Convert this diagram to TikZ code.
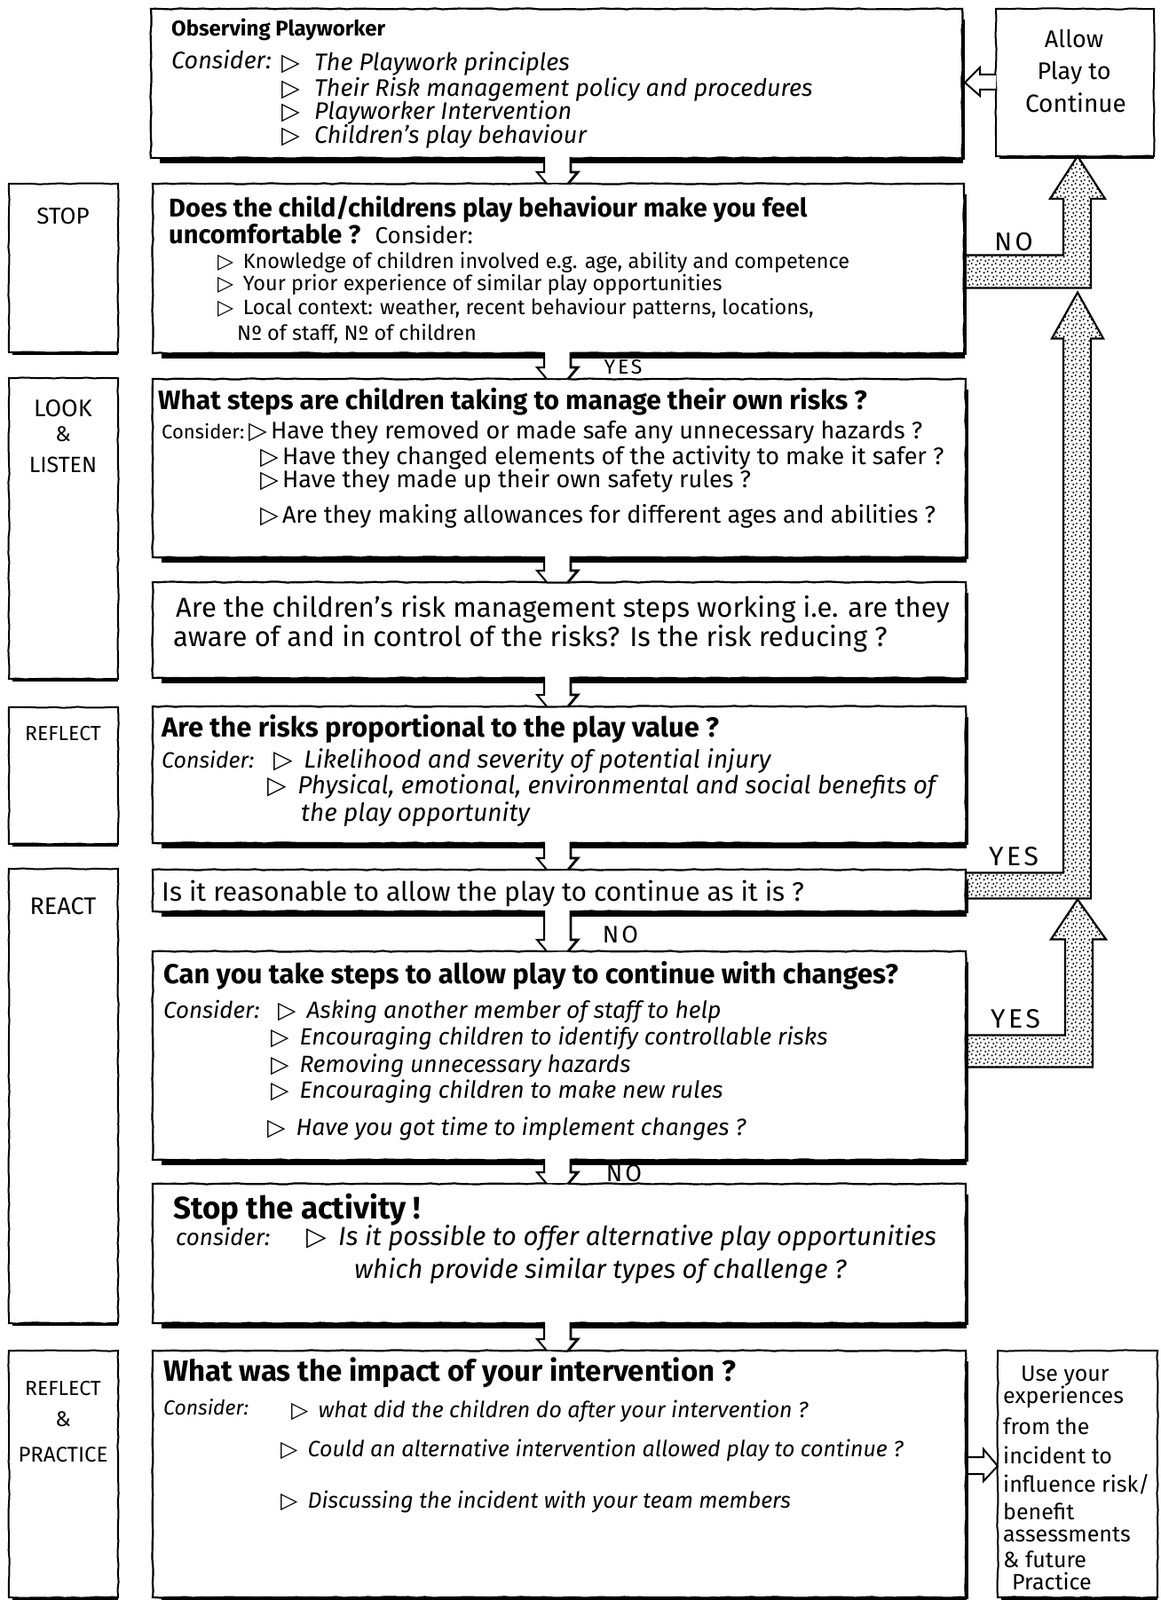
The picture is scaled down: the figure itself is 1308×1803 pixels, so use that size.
\documentclass[tikz,border=0pt]{standalone}
\usepackage{fontspec}
\setmainfont{Fira Sans}
\newfontfamily\symfont{DejaVu Sans}
\usetikzlibrary{decorations.pathmorphing,patterns.meta,calc}

\tikzdeclarepattern{
  name=sdots,
  type=uncolored,
  bottom left={(0pt,0pt)},
  top right={(9pt,9pt)},
  tile size={(9pt,9pt)},
  code={
    \pgfpathcircle{\pgfqpoint{1.8pt}{1.8pt}}{1.35pt}
    \pgfpathcircle{\pgfqpoint{6.3pt}{3.4pt}}{1.2pt}
    \pgfpathcircle{\pgfqpoint{3.6pt}{6.6pt}}{1.3pt}
    \pgfpathcircle{\pgfqpoint{7.8pt}{7.9pt}}{1.1pt}
    \pgfusepath{fill}
  }
}

\newcommand\tri[1][0.45em]{{\symfont\bfseries ▷}\hspace{#1}}

\newcommand\mainbox[5]{%
  \node[mainb, minimum width={#4pt-#2pt}, minimum height={#5pt-#3pt}] (#1) at ({(#2+#4)/2},{(#3+#5)/2}) {};
  \draw[line width=6pt] ([xshift=10pt,yshift=-3pt]#1.south west) -- ([xshift=1pt,yshift=-3pt]#1.south east);
  \draw[line width=3pt] ([xshift=1.5pt,yshift=-12pt]#1.north east) -- ([xshift=1.5pt,yshift=-2pt]#1.south east);
}
\newcommand\sidebox[5]{%
  \node[sideb, minimum width={#4pt-#2pt}, minimum height={#5pt-#3pt}] (#1) at ({(#2+#4)/2},{(#3+#5)/2}) {};
  \draw[line width=3.5pt] ([xshift=4pt,yshift=-1.5pt]#1.south west) -- ([yshift=-1.5pt]#1.south east);
}
\newcommand\dconn[3]{%
  \coordinate (#1-#2-s) at (#3,0 |- #1.south);
  \coordinate (#1-#2-e) at (#3,0 |- #2.north);
  \fill[white] ($(#1-#2-s)+(-14,-2)$) -- ($(#1-#2-e)+(-14,-13)$) -- ($(#1-#2-e)+(-22,-13)$) -- ($(#1-#2-e)+(-12,-1)$)
     -- ($(#1-#2-e)+(12,-1)$) -- ($(#1-#2-e)+(22,-13)$) -- ($(#1-#2-e)+(14,-13)$) -- ($(#1-#2-s)+(14,-2)$) -- cycle;
  \draw[conn] ($(#1-#2-s)+(-15,-1)$) -- ($(#1-#2-e)+(-15,-13)$) -- ($(#1-#2-e)+(-23,-13)$) -- ($(#1-#2-e)+(-12,0)$);
  \draw[conn, line width=2.8pt] ($(#1-#2-s)+(15,-1)$) -- ($(#1-#2-e)+(15,-13)$) -- ($(#1-#2-e)+(23,-13)$) -- ($(#1-#2-e)+(12,0)$);
}

\begin{document}
\begin{tikzpicture}[x=1pt,y=-1pt,
  sk/.style={decorate,decoration={random steps,segment length=9pt,amplitude=0.6pt}},
  mainb/.style={draw,line width=2.2pt,fill=white,inner sep=0pt,outer sep=0pt,sk},
  sideb/.style={draw,line width=2pt,fill=white,inner sep=0pt,outer sep=0pt,sk},
  conn/.style={line width=2pt,line join=miter},
  dotarr/.style={draw,line width=2.2pt,line join=miter,pattern=sdots,pattern color=black},
  holl/.style={draw,line width=2pt,line join=miter,fill=white},
  hd/.style={anchor=base west,inner sep=0pt,font={\fontsize{#1}{#1}\selectfont\bfseries}},
  tx/.style={anchor=base west,inner sep=0pt,font={\fontsize{#1}{#1}\selectfont}},
  ti/.style={anchor=base west,inner sep=0pt,font={\fontsize{#1}{#1}\selectfont\itshape}},
  lab/.style={anchor=base,inner sep=0pt,font={\fontsize{#1}{#1}\selectfont}},
  yn/.style={anchor=center,inner sep=0pt,font={\fontsize{#1}{#1}\selectfont\addfontfeatures{LetterSpace=12}}}]
\useasboundingbox (0,0) rectangle (1308,1803);
\fill[white] (0,0) rectangle (1308,1803);

% ---------- boxes ----------
\mainbox{b1}{170}{10}{1084}{178}
\sidebox{allow}{1122}{10}{1300}{176}
\sidebox{stop}{10}{207}{133}{397}
\mainbox{b2}{172}{207}{1086}{398}
\sidebox{look}{10}{426}{133}{765}
\mainbox{b3}{172}{427}{1088}{628}
\mainbox{b4}{172}{656}{1088}{764}
\sidebox{refl}{10}{797}{133}{951}
\mainbox{b5}{172}{796}{1088}{950}
\sidebox{react}{10}{979}{133}{1491}
\mainbox{b6}{172}{980}{1088}{1027}
\mainbox{b7}{172}{1072}{1088}{1307}
\mainbox{b8}{172}{1334}{1088}{1491}
\sidebox{rp}{10}{1522}{133}{1800}
\mainbox{b9}{172}{1522}{1088}{1800}
\sidebox{use}{1124}{1522}{1304}{1800}

% ---------- down connectors ----------
\dconn{b1}{b2}{628}
\dconn{b2}{b3}{628}
\dconn{b3}{b4}{628}
\dconn{b4}{b5}{628}
\dconn{b5}{b6}{628}
\dconn{b6}{b7}{628}
\dconn{b7}{b8}{628}
\dconn{b8}{b9}{628}

% ---------- dotted return arrows ----------
\coordinate (nA) at ($(b2.east)+(0,-15)$);
\coordinate (nB) at ($(b2.east)+(0,22)$);
\coordinate (nT) at (allow.south -| 1214,0);
\draw[dotarr] (nA) -- (nA -| 1198,0) -- ($(nT)+(-16,48)$) -- ($(nT)+(-31,48)$) -- (nT)
  -- ($(nT)+(31,48)$) -- ($(nT)+(15,48)$) -- (nB -| 1229,0) -- (nB) -- cycle;

\coordinate (yA) at ($(b6.east)+(0,-20)$);
\coordinate (yB) at ($(b6.east)+(0,9)$);
\coordinate (yT) at ($(nB -| 1214,0)+(0,5)$);
\draw[dotarr] (yA) -- (yA -| 1198,0) -- ($(yT)+(-16,52)$) -- ($(yT)+(-29,52)$) -- (yT)
  -- ($(yT)+(29,52)$) -- ($(yT)+(15,52)$) -- (yB -| 1229,0) -- (yB) -- cycle;

\coordinate (zA) at ($(b7.east)+(0,-23)$);
\coordinate (zB) at ($(b7.east)+(0,13)$);
\coordinate (zT) at ($(yB -| 1214,0)+(0,1)$);
\draw[dotarr] (zA) -- (zA -| 1200,0) -- ($(zT)+(-14,45)$) -- ($(zT)+(-30,45)$) -- (zT)
  -- ($(zT)+(32,45)$) -- ($(zT)+(17,45)$) -- (zB -| 1231,0) -- (zB) -- cycle;

% ---------- hollow side arrows ----------
\coordinate (aT) at ($(b1.east |- allow.west)+(3,0)$);
\draw[holl] ($(allow.west)+(0,-9)$) -- ($(allow.west)+(-18,-9)$) -- ($(allow.west)+(-18,-17)$) -- (aT)
  -- ($(allow.west)+(-18,15)$) -- ($(allow.west)+(-18,8)$) -- ($(allow.west)+(0,8)$);
\coordinate (uS) at ($(b9.east)+(3,-9)$);
\coordinate (uT) at ($(use.west)+(0,-9)$);
\draw[holl] ($(uS)+(0,-10)$) -- ($(uS)+(17,-10)$) -- ($(uS)+(17,-19)$) -- (uT)
  -- ($(uS)+(17,17)$) -- ($(uS)+(17,9)$) -- ($(uS)+(0,9)$);

% ---------- YES / NO labels ----------
\node[yn=29] (lno1) at (1142,273) {NO};
\node[yn=23] (lyes1) at (702,414) {YES};
\node[yn=30] (lyes2) at (1142,965) {YES};
\node[yn=27] (lno2) at (699,1053) {NO};
\node[yn=30] (lyes3) at (1144,1148) {YES};
\node[yn=27] (lno3) at (703,1322) {NO};

% ---------- box 1 ----------
\node[hd=24] (t1a) at (193,41) {Observing Playworker};
\node[ti=27] (t1b) at (193,78) {Consider:};
\node[ti=27] (t1c) at (317,80) {\tri[0.6em]The Playwork principles};
\node[ti=27] (t1d) at (317,109) {\tri[0.6em]Their Risk management policy and procedures};
\node[ti=27] (t1e) at (317,135) {\tri[0.6em]Playworker Intervention};
\node[ti=27] (t1f) at (317,162) {\tri[0.6em]Children's play behaviour};

% ---------- allow ----------
\node[lab=27] (ta1) at (1210,54) {Allow};
\node[lab=27] (ta2) at (1210,90) {Play to};
\node[lab=28] (ta3) at (1212,127) {Continue};

% ---------- side labels ----------
\node[lab=26] (ts) at (71,253) {STOP};
\node[lab=27] (tl1) at (71,469) {LOOK};
\node[lab=24] (tl2) at (71,497) {\&};
\node[lab=25] (tl3) at (71,532) {LISTEN};
\node[lab=23] (tr) at (71,834) {REFLECT};
\node[lab=27] (tre) at (71,1030) {REACT};
\node[lab=23] (tp1) at (71,1572) {REFLECT};
\node[lab=24] (tp2) at (71,1607) {\&};
\node[lab=24] (tp3) at (71,1647) {PRACTICE};

% ---------- box 2 ----------
\node[hd=29] (t2a) at (190,245) {Does the child/childrens play behaviour make you feel};
\node[hd=29] (t2b) at (190,274) {uncomfortable ?};
\node[tx=26,anchor=base west] (t2c) at ($(t2b.base east)+(16,0)$) {Consider:};
\node[tx=23.5] (t2d) at (245,302) {\tri Knowledge of children involved e.g. age, ability and competence};
\node[tx=23.5] (t2e) at (245,327) {\tri Your prior experience of similar play opportunities};
\node[tx=23.5] (t2f) at (245,354) {\tri Local context: weather, recent behaviour patterns, locations,};
\node[tx=23.5] (t2g) at (267,383) {Nº of staff, Nº of children};

% ---------- box 3 ----------
\node[hd=30] (t3a) at (178,461) {What steps are children taking to manage their own risks ?};
\node[tx=22] (t3b) at (182,494) {Consider:};
\node[tx=27] (t3c) at (280,494) {\tri[0.15em]Have they removed or made safe any unnecessary hazards ?};
\node[tx=27] (t3d) at (293,523) {\tri[0.15em]Have they changed elements of the activity to make it safer ?};
\node[tx=27] (t3e) at (293,549) {\tri[0.15em]Have they made up their own safety rules ?};
\node[tx=27] (t3f) at (293,589) {\tri[0.15em]Are they making allowances for different ages and abilities ?};

% ---------- box 4 ----------
\node[tx=31] (t4a) at (198,695) {Are the children's risk management steps working i.e. are they};
\node[tx=31] (t4b) at (195,728) {aware of and in control of the risks? Is the risk reducing ?};

% ---------- box 5 ----------
\node[hd=31] (t5a) at (182,830) {Are the risks proportional to the play value ?};
\node[ti=25] (t5b) at (182,865) {Consider:};
\node[ti=28] (t5c) at (308,865) {\tri Likelihood and severity of potential injury};
\node[ti=28] (t5d) at (301,894) {\tri Physical, emotional, environmental and social benefits of};
\node[ti=28] (t5e) at (339,925) {the play opportunity};

% ---------- box 6 ----------
\node[tx=30] (t6a) at (182,1015) {Is it reasonable to allow the play to continue as it is ?};

% ---------- box 7 ----------
\node[hd=31] (t7a) at (184,1108) {Can you take steps to allow play to continue with changes?};
\node[ti=26] (t7b) at (184,1147) {Consider:};
\node[ti=26.5] (t7c) at (313,1147) {\tri Asking another member of staff to help};
\node[ti=26.5] (t7d) at (305,1177) {\tri Encouraging children to identify controllable risks};
\node[ti=26.5] (t7e) at (305,1208) {\tri Removing unnecessary hazards};
\node[ti=26.5] (t7f) at (305,1237) {\tri Encouraging children to make new rules};
\node[ti=26.5] (t7g) at (301,1279) {\tri Have you got time to implement changes ?};

% ---------- box 8 ----------
\node[hd=35] (t8a) at (195,1373) {Stop the activity !};
\node[ti=26] (t8b) at (198,1403) {consider:};
\node[ti=29.5] (t8c) at (345,1403) {\tri Is it possible to offer alternative play opportunities};
\node[ti=29.5] (t8d) at (399,1440) {which provide similar types of challenge ?};

% ---------- box 9 ----------
\node[hd=33] (t9a) at (184,1556) {What was the impact of your intervention ?};
\node[ti=23] (t9b) at (184,1594) {Consider:};
\node[ti=25] (t9c) at (328,1597) {\tri what did the children do after your intervention ?};
\node[ti=25] (t9d) at (316,1641) {\tri Could an alternative intervention allowed play to continue ?};
\node[ti=25] (t9e) at (316,1699) {\tri Discussing the incident with your team members};

% ---------- use box ----------
\node[tx=25] (u1) at (1150,1556) {Use your};
\node[tx=25] (u2) at (1130,1581) {experiences};
\node[tx=25] (u3) at (1130,1616) {from the};
\node[tx=25] (u4) at (1130,1649) {incident to};
\node[tx=25] (u5) at (1130,1681) {influence risk/};
\node[tx=25] (u6) at (1130,1712) {benefit};
\node[tx=25] (u7) at (1130,1737) {assessments};
\node[tx=25] (u8) at (1130,1766) {\& future};
\node[tx=25] (u9) at (1140,1791) {Practice};
\end{tikzpicture}
\end{document}
